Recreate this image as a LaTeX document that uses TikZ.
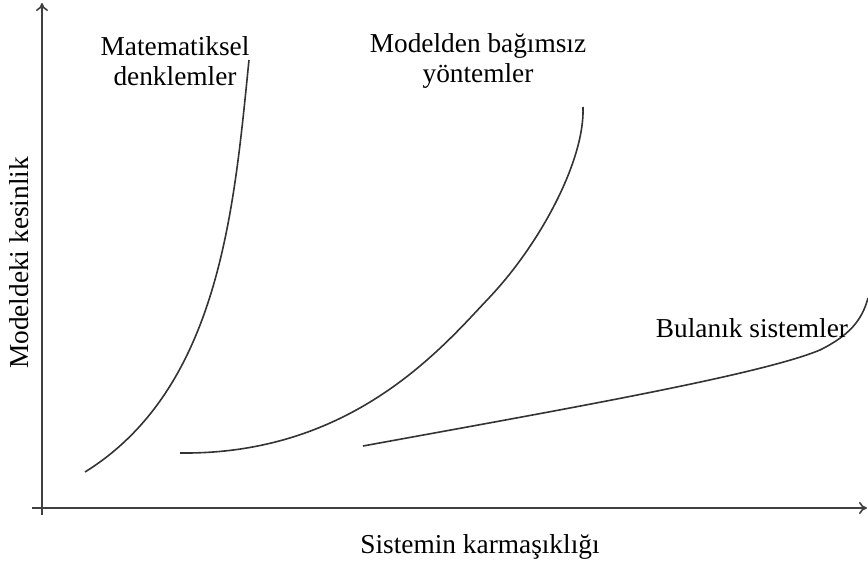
\documentclass[tikz,border=0pt]{standalone}
\usepackage{fontspec}
\setmainfont{Liberation Serif}
\usetikzlibrary{arrows.meta}
\begin{document}
\begin{tikzpicture}[x=0.75pt,y=-0.75pt,
  axis/.style={draw=black!75, line width=1.2pt, -{To[length=6pt,width=9pt]}},
  curve/.style={draw=black!80, line width=1.2pt},
  lbl/.style={font=\fontsize{20.5}{23}\selectfont, align=center, inner sep=0pt}]
\useasboundingbox (0,0) rectangle (868,563);
\coordinate (o1) at (42,515);
\coordinate (ytop) at (42,3);
\coordinate (o2) at (32,508);
\coordinate (xend) at (867,508);
\draw[axis] (o1) -- (ytop);
\draw[axis] (o2) -- (xend);
% curves
\draw[curve] (85,472) .. controls (220,388) and (234,208) .. (249,60);
\draw[curve] (180,453) .. controls (350,455) and (440,350) .. (487,300)
  .. controls (540,245) and (585,160) .. (583,107);
\draw[curve] (363,446) .. controls (560,410) and (760,375) .. (820,350)
  .. controls (850,335) and (862,320) .. (868,298);
% labels
\node[lbl] (lm) at (175,61) {Matematiksel\\denklemler};
\node[lbl] (lb) at (478,61) {Modelden bağımsız\\yöntemler};
\node[lbl] (lf) at (752,328) {Bulanık sistemler};
\node[lbl] (lx) at (480,547) {Sistemin karmaşıklığı};
\node[lbl, rotate=90] (ly) at (19,263) {Modeldeki kesinlik};
\end{tikzpicture}
\end{document}
